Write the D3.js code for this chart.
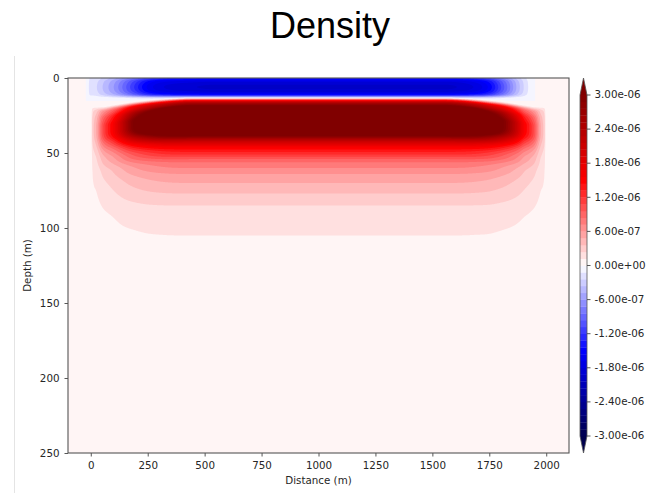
<!DOCTYPE html>
<html>
<head>
<meta charset="utf-8">
<script src="https://cdn.jsdelivr.net/npm/d3@7"></script>
<style>
body { margin: 0; background: #fff; }
svg { display: block; }
text { font-family: "DejaVu Sans", sans-serif; fill: #262626; }
.title { font-family: "Liberation Sans", Arial, sans-serif; fill: #000; }
</style>
</head>
<body>
<svg id="chart" width="653" height="493"></svg>
<script>
// density in units of 1e-6

// vertical profile at the middle of the section
var depthNodes = [0, 2, 4, 6, 8, 10, 11, 12, 13, 14, 15, 16, 18, 20, 23, 26, 30, 34, 37, 39, 42, 46, 51, 55, 60, 64, 70, 77, 85, 95, 105, 120, 150, 200, 250];
var positiveProfile = [0, 0, 0, 0, 0, 0, 0, 0, 0.1, 0.6, 1.5, 2.2, 2.9, 3.6, 4.2, 4.6, 4.6, 4.2, 3.4, 2.9, 2.2, 1.6, 1.2, 0.9, 0.72, 0.6, 0.48, 0.36, 0.24, 0.17, 0.12, 0.09, 0.06, 0.04, 0.03];
var negativeProfile = [-1.4, -1.75, -1.9, -1.95, -1.9, -1.7, -1.5, -1.0, -0.35, -0.1, 0, 0, 0, 0, 0, 0, 0, 0, 0, 0, 0, 0, 0, 0, 0, 0, 0, 0, 0, 0, 0, 0, 0, 0, 0];

// how the profile changes along the section (strength, flattening and sinking near the ends)
var distanceNodes = [-100, -20, 0, 4, 8, 25, 50, 98, 186, 245, 317, 450, 550, 1000, 1450, 1550, 1683, 1750, 1814, 1880, 1902, 1925, 1950, 1975, 1992, 1996, 2000, 2100];
var positiveAmplitude = [0, 0, 0, 0.07, 0.139, 0.19, 0.3, 0.44, 0.71, 0.83, 0.93, 1, 1, 1, 1, 1, 0.93, 0.84, 0.71, 0.52, 0.44, 0.38, 0.3, 0.19, 0.139, 0.07, 0, 0];
var profileExponent = [0.505, 0.505, 0.505, 0.505, 0.505, 0.63, 0.787, 0.84, 0.944, 0.965, 0.987, 1, 1, 1, 1, 1, 0.987, 0.965, 0.944, 0.88, 0.84, 0.82, 0.787, 0.63, 0.505, 0.505, 0.505, 0.505];
var depthShift = [6, 6, 6, 6, 6, 6, 6, 5, 3, 2, 1, 0, 0, 0, 0, 0, 1, 2, 3, 4.5, 5, 5.5, 6, 6, 6, 6, 6, 6];
var negativeAmplitude = [0, 0, 0.1, 0.1, 0.1, 0.12, 0.18, 0.3, 0.6, 0.8, 0.92, 0.98, 1, 1, 1, 1, 0.92, 0.78, 0.5, 0.2, 0.12, 0.05, 0, 0, 0, 0, 0, 0];

var xTicks = [0, 250, 500, 750, 1000, 1250, 1500, 1750, 2000];
var yTicks = [0, 50, 100, 150, 200, 250];
var levels = d3.range(51).map(function(i){ return (i - 25) * 0.12; });
var colorbarTicks = d3.range(0, 51, 5).map(function(i){ return levels[i]; });

var svg = d3.select('#chart');

var plot = {left: 68, right: 569, top: 78, bottom: 453};
var x = d3.scaleLinear().domain([-100, 2100]).range([plot.left, plot.right]);
var y = d3.scaleLinear().domain([0, 250]).range([plot.top, plot.bottom]);

// matplotlib "seismic"
var seismic = d3.scaleLinear()
	.domain([0, 0.25, 0.5, 0.75, 1])
	.range(['rgb(0,0,77)', 'rgb(0,0,255)', 'rgb(255,255,255)', 'rgb(255,0,0)', 'rgb(128,0,0)'])
	.clamp(true);
var vmin = levels[0], vmax = levels[levels.length - 1];
function bandColor(i){
	if(i < 0) return seismic(0);
	if(i >= levels.length - 1) return seismic(1);
	var mid = (levels[i] + levels[i + 1]) / 2;
	return seismic((mid - vmin) / (vmax - vmin));
}

// smooth monotone curve through the read points (same slopes as d3.curveMonotoneX)
function monotone(xs, ys){
	var n = xs.length, h = [], s = [], m = [];
	for(var i = 0; i < n - 1; i++){
		h.push(xs[i + 1] - xs[i]);
		s.push((ys[i + 1] - ys[i]) / h[i]);
	}
	for(var i = 1; i < n - 1; i++){
		var p = (s[i - 1] * h[i] + s[i] * h[i - 1]) / (h[i - 1] + h[i]);
		m[i] = ((s[i - 1] > 0) - (s[i - 1] < 0) + (s[i] > 0) - (s[i] < 0)) *
			Math.min(Math.abs(s[i - 1]), Math.abs(s[i]), 0.5 * Math.abs(p)) || 0;
	}
	m[0] = 0; m[n - 1] = 0;
	return function(v){
		if(v <= xs[0]) return ys[0];
		if(v >= xs[n - 1]) return ys[n - 1];
		var k = d3.bisectRight(xs, v) - 1;
		var t = (v - xs[k]) / h[k], t2 = t * t, t3 = t2 * t;
		return (2 * t3 - 3 * t2 + 1) * ys[k] + (t3 - 2 * t2 + t) * h[k] * m[k] +
			(-2 * t3 + 3 * t2) * ys[k + 1] + (t3 - t2) * h[k] * m[k + 1];
	};
}

var posScale = monotone(depthNodes, positiveProfile);
var negScale = monotone(depthNodes, negativeProfile);
var ampPos = monotone(distanceNodes, positiveAmplitude);
var ampNeg = monotone(distanceNodes, negativeAmplitude);
var expo = monotone(distanceNodes, profileExponent);
var shift = monotone(distanceNodes, depthShift);

// sample the field on a grid
var nx = 1000, nz = 500;
var dx = 2200 / nx, dz = 250 / nz;
var values = new Float64Array(nx * nz);
var colA = [], colB = [], colP = [], colS = [];
for(var i = 0; i < nx; i++){
	var xd = -100 + (i + 0.5) * dx;
	colA.push(Math.max(0, ampPos(xd)));
	colB.push(Math.max(0, ampNeg(xd)));
	colP.push(expo(xd));
	colS.push(shift(xd));
}
for(var j = 0; j < nz; j++){
	var zd = (j + 0.5) * dz;
	var neg = negScale(zd);
	for(var i = 0; i < nx; i++){
		var pos = Math.max(0, posScale(zd - colS[i]));
		values[j * nx + i] = colA[i] * Math.pow(pos, colP[i]) + colB[i] * neg;
	}
}

var contours = d3.contours().size([nx, nz]).thresholds(levels)(values);

var path = d3.geoPath(d3.geoTransform({
	point: function(px, py){
		this.stream.point(x(-100 + px * dx), y(py * dz));
	}
}));

svg.append('defs').append('clipPath').attr('id', 'clip')
	.append('rect')
	.attr('x', plot.left).attr('y', plot.top)
	.attr('width', plot.right - plot.left).attr('height', plot.bottom - plot.top);

var field = svg.append('g').attr('clip-path', 'url(#clip)');
field.append('rect')
	.attr('x', plot.left).attr('y', plot.top)
	.attr('width', plot.right - plot.left).attr('height', plot.bottom - plot.top)
	.attr('fill', bandColor(-1));
field.selectAll('path.band').data(contours).enter().append('path')
	.attr('class', 'band')
	.attr('d', path)
	.attr('fill', function(d, k){ return bandColor(k); });

// notebook cell border
svg.append('line')
	.attr('x1', 14.5).attr('x2', 14.5).attr('y1', 56).attr('y2', 493)
	.attr('stroke', '#e4e4e4').attr('stroke-width', 1);

// axes
var xAxis = svg.append('g')
	.attr('transform', 'translate(0,' + plot.bottom + ')')
	.call(d3.axisBottom(x).tickValues(xTicks).tickFormat(d3.format('d')).tickSize(3.5).tickPadding(5.5));
var yAxis = svg.append('g')
	.attr('transform', 'translate(' + plot.left + ',0)')
	.call(d3.axisLeft(y).tickValues(yTicks).tickFormat(d3.format('d')).tickSize(3.5).tickPadding(5));
[xAxis, yAxis].forEach(function(a){
	a.select('.domain').remove();
	a.selectAll('.tick line').attr('stroke', '#444').attr('stroke-width', 0.9);
	a.selectAll('.tick text').attr('font-size', 10.3).attr('font-family', '"DejaVu Sans", sans-serif').attr('fill', '#262626');
});

svg.append('rect')
	.attr('x', plot.left).attr('y', plot.top)
	.attr('width', plot.right - plot.left).attr('height', plot.bottom - plot.top)
	.attr('fill', 'none').attr('stroke', '#555').attr('stroke-width', 1.1);

svg.append('text')
	.attr('x', (plot.left + plot.right) / 2).attr('y', 484)
	.attr('text-anchor', 'middle').attr('font-size', 10.3)
	.text('Distance (m)');
svg.append('text')
	.attr('transform', 'translate(31,' + ((plot.top + plot.bottom) / 2) + ') rotate(-90)')
	.attr('text-anchor', 'middle').attr('font-size', 10.3)
	.text('Depth (m)');

svg.append('text')
	.attr('class', 'title')
	.attr('x', 330).attr('y', 37.5)
	.attr('text-anchor', 'middle').attr('font-size', 36)
	.text('Density');

// colorbar with extensions
var cb = {left: 580, right: 587, top: 95, bottom: 436, ext: 17};
var cy = d3.scaleLinear().domain([vmin, vmax]).range([cb.bottom, cb.top]);
var cbar = svg.append('g');
cbar.selectAll('rect').data(d3.range(levels.length - 1)).enter().append('rect')
	.attr('x', cb.left).attr('width', cb.right - cb.left)
	.attr('y', function(k){ return cy(levels[k + 1]); })
	.attr('height', function(k){ return cy(levels[k]) - cy(levels[k + 1]) + 0.3; })
	.attr('fill', function(k){ return bandColor(k); });
var cmid = (cb.left + cb.right) / 2;
cbar.append('path')
	.attr('d', 'M' + cb.left + ',' + cb.top + 'L' + cmid + ',' + (cb.top - cb.ext) + 'L' + cb.right + ',' + cb.top + 'Z')
	.attr('fill', bandColor(levels.length));
cbar.append('path')
	.attr('d', 'M' + cb.left + ',' + cb.bottom + 'L' + cmid + ',' + (cb.bottom + cb.ext) + 'L' + cb.right + ',' + cb.bottom + 'Z')
	.attr('fill', bandColor(-1));
cbar.append('path')
	.attr('d', 'M' + cb.left + ',' + cb.top + 'L' + cmid + ',' + (cb.top - cb.ext) + 'L' + cb.right + ',' + cb.top +
		'L' + cb.right + ',' + cb.bottom + 'L' + cmid + ',' + (cb.bottom + cb.ext) + 'L' + cb.left + ',' + cb.bottom + 'Z')
	.attr('fill', 'none').attr('stroke', '#555').attr('stroke-width', 0.8);

function sci(v){
	var s = (v * 1e-6).toExponential(2);
	if(Math.abs(v) < 1e-9) s = '0.00e+0';
	return s.replace(/e([+-])(\d)$/, function(m, sign, d){ return 'e' + sign + '0' + d; });
}

var cticks = cbar.selectAll('g.ctick').data(colorbarTicks).enter().append('g')
	.attr('class', 'ctick')
	.attr('transform', function(d){ return 'translate(' + cb.right + ',' + cy(d) + ')'; });
cticks.append('line').attr('x1', 0).attr('x2', 3.5).attr('stroke', '#444').attr('stroke-width', 0.9);
cticks.append('text')
	.attr('x', 7.5).attr('dy', '0.32em')
	.attr('font-size', 10.3)
	.text(sci);
</script>
</body>
</html>
